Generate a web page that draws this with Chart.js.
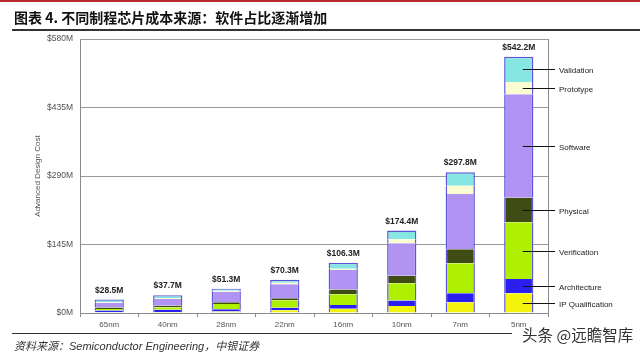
<!DOCTYPE html>
<html>
<head>
<meta charset="utf-8">
<script src="https://cdn.jsdelivr.net/npm/chart.js@4.4.1/dist/chart.umd.min.js"></script>
<style>
    html, body { margin: 0; padding: 0; background: #fff; }
    body { width: 640px; height: 354px; position: relative; overflow: hidden; }
    #wrap { position: absolute; left: 0; top: 0; width: 640px; height: 354px; }
    .topbar { position: absolute; left: 0; top: 0; width: 640px; height: 2px; background: #b8282e; }
    #title {
        position: absolute; left: 14px; top: 7px;
        font: bold 14px "Noto Sans CJK SC", sans-serif; color: #111;
    }
    .rule { position: absolute; left: 12px; background: #333; }
    .rule.top { top: 29px; width: 628px; height: 2px; }
    .rule.bottom { top: 333px; width: 500px; height: 1px; }
    #source {
        position: absolute; left: 14px; top: 337px;
        font: italic 11px "Noto Sans CJK SC", sans-serif; color: #333;
    }
    #source span { font-family: "Liberation Sans", Arial, sans-serif; }
    #mark {
        position: absolute; left: 522px; top: 323px;
        font: 15.5px "Noto Sans CJK SC", sans-serif; color: #333;
        text-shadow: 0 0 2px #fff, 0 0 2px #fff;
    }
</style>
</head>
<body>
<div id="wrap"><canvas id="myChart" width="640" height="354"></canvas></div>
<div class="topbar"></div>
<div id="title">图表 4. 不同制程芯片成本来源：软件占比逐渐增加</div>
<div class="rule top"></div>
<div class="rule bottom"></div>
<div id="source">资料来源：<span>Semiconductor Engineering</span>，中银证券</div>
<div id="mark">头条 @远瞻智库</div>

<script>
// Datos (millones de USD)
const nodes = ['65nm', '40nm', '28nm', '22nm', '16nm', '10nm', '7nm', '5nm'];
const totals = [28.5, 37.7, 51.3, 70.3, 106.3, 174.4, 297.8, 542.2];

const ipQual       = [1.5, 2,   3,   6,   9,    15,   22.6, 42];
const architecture = [4,   5,   5,   5,   7.8,  11.3, 19,   30];
const verification = [3,   5,   11,  16,  23,   36.8, 63.5, 120];
const physical     = [3,   3.5, 4,   4,   10,   16,   30,   52];
const software     = [10,  14,  22,  30,  41,   68.5, 117,  219];
const prototype    = [2,   2.2, 2,   3,   3,    8.5,  17,   26];
const validation   = [5,   6,   4.3, 6.3, 12.5, 18.3, 28.7, 53.2];

const yTicks = [0, 145, 290, 435, 580];

const series = [
    { label: 'IP Qualification', data: ipQual,       color: '#f4f40c' },
    { label: 'Architecture',     data: architecture, color: '#2a1ef0' },
    { label: 'Verification',     data: verification, color: '#aef000' },
    { label: 'Physical',         data: physical,     color: '#3f4d14' },
    { label: 'Software',         data: software,     color: '#b093f2' },
    { label: 'Prototype',        data: prototype,    color: '#fcfcd2' },
    { label: 'Validation',       data: validation,   color: '#86e6e2' }
];

// Etiquetas de totales arriba de cada barra + nombres con líneas guía a la derecha
const labelsPlugin = {
    id: 'labelsPlugin',
    afterDatasetsDraw(chart) {
        const ctx = chart.ctx;
        const area = chart.chartArea;
        const last = chart.data.datasets.length - 1;
        const topMeta = chart.getDatasetMeta(last);

        ctx.save();
        // borde derecho del área
        ctx.strokeStyle = '#8a8a8a';
        ctx.lineWidth = 1;
        ctx.beginPath();
        ctx.moveTo(Math.round(area.right) + 0.5, area.top);
        ctx.lineTo(Math.round(area.right) + 0.5, area.bottom);
        ctx.stroke();

        ctx.fillStyle = '#222';
        ctx.font = 'bold 8.5px "Liberation Sans", Arial, sans-serif';
        ctx.textAlign = 'center';
        ctx.textBaseline = 'bottom';
        topMeta.data.forEach((bar, i) => {
            ctx.fillText('$' + totals[i].toFixed(1) + 'M', bar.x, bar.y - 5);
        });

        ctx.font = '8px "Liberation Sans", Arial, sans-serif';
        ctx.textAlign = 'left';
        ctx.textBaseline = 'middle';
        ctx.strokeStyle = '#111';
        chart.data.datasets.forEach((ds, d) => {
            const el = chart.getDatasetMeta(d).data[nodes.length - 1];
            const mid = Math.round((el.y + el.base) / 2) + 0.5;
            ctx.beginPath();
            ctx.moveTo(el.x + 4, mid);
            ctx.lineTo(area.right + 7, mid);
            ctx.stroke();
            ctx.fillText(ds.label, area.right + 11, mid + 1);
        });
        ctx.restore();
    }
};

const ctx = document.getElementById('myChart');
new Chart(ctx, {
    type: 'bar',
    data: {
        labels: nodes,
        datasets: series.map((s, i) => ({
            label: s.label,
            data: s.data,
            backgroundColor: s.color,
            borderColor: '#5d55d8',
            borderWidth: i === series.length - 1
                ? { left: 1.5, right: 1.5, top: 1.5, bottom: 0 }
                : { left: 1.5, right: 1.5, top: 0, bottom: 0 },
            borderSkipped: false,
            categoryPercentage: 1,
            barPercentage: 0.5
        }))
    },
    options: {
        responsive: false,
        animation: false,
        layout: { padding: { left: 33, right: 92, top: 39, bottom: 0 } },
        plugins: { legend: { display: false }, tooltip: { enabled: false } },
        scales: {
            x: {
                stacked: true,
                grid: { display: true, drawOnChartArea: false, color: '#8a8a8a', tickLength: 4, offset: true },
                border: { color: '#8a8a8a' },
                ticks: { color: '#555', font: { size: 8, family: 'Liberation Sans' }, padding: 3 },
                afterFit(scale) { scale.height = 41; }
            },
            y: {
                stacked: true,
                min: 0,
                max: 580,
                afterBuildTicks(scale) { scale.ticks = yTicks.map(v => ({ value: v })); },
                grid: { color: '#9a9a9a', tickLength: 0 },
                border: { color: '#8a8a8a' },
                ticks: {
                    color: '#505050',
                    font: { size: 8.5, family: 'Liberation Sans' },
                    padding: 7,
                    callback: v => '$' + v + 'M'
                },
                title: {
                    display: true,
                    text: 'Advanced Design Cost',
                    color: '#555',
                    font: { size: 8, family: 'Liberation Sans' },
                    padding: 0
                },
                afterFit(scale) { scale.width = 47; }
            }
        }
    },
    plugins: [labelsPlugin]
});
</script>
</body>
</html>
